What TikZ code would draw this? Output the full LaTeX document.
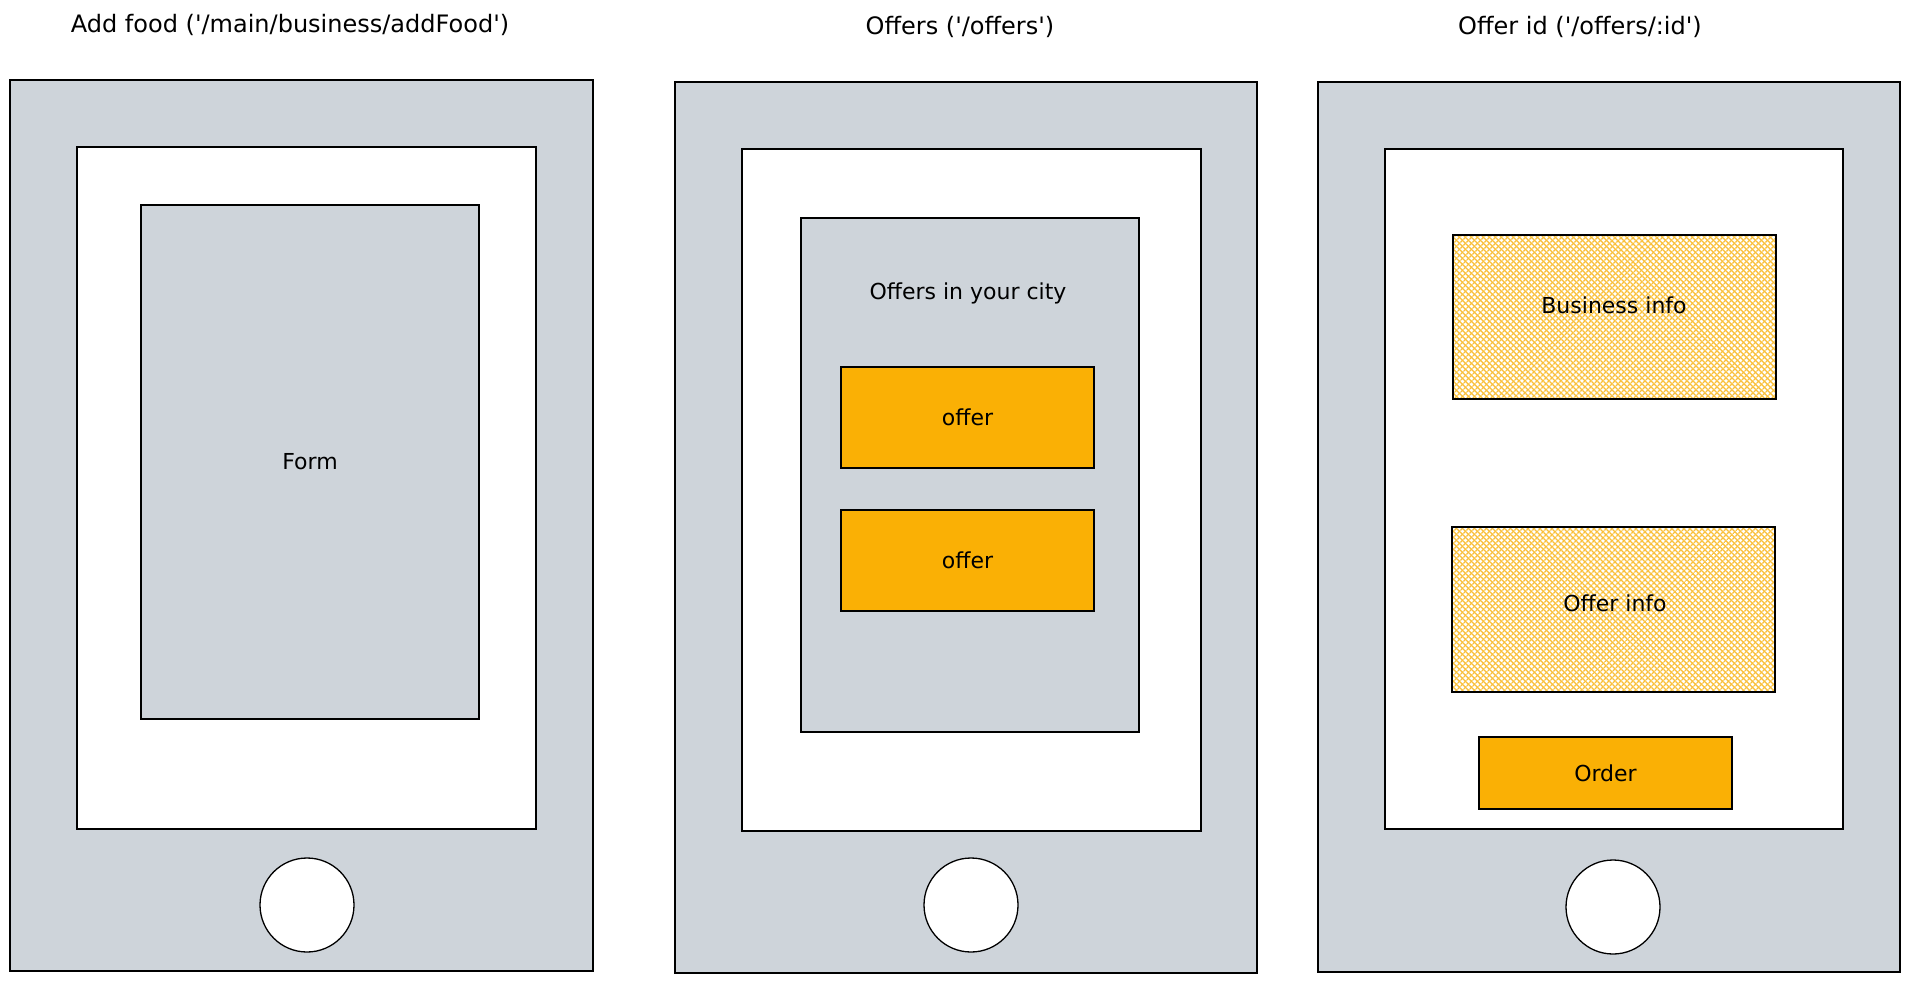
\documentclass[tikz,border=0pt]{standalone}
\usepackage{fontspec}
\setmainfont{DejaVu Sans}
\usetikzlibrary{patterns.meta}
\definecolor{phonegray}{HTML}{CED4DA}
\definecolor{offerorange}{HTML}{FAB005}
\definecolor{hatchyellow}{HTML}{FAC03A}

\begin{document}
\begin{tikzpicture}[x=1pt,y=-1pt,
  every node/.style={inner sep=0pt},
  case/.style={draw=black,line width=1.3pt,fill=phonegray},
  screen/.style={draw=black,line width=1.3pt,fill=white},
  panel/.style={draw=black,line width=1.3pt,fill=phonegray,font=\fontsize{22}{26}\selectfont},
  offerbox/.style={draw=black,line width=1.3pt,fill=offerorange,font=\fontsize{22}{26}\selectfont},
  infobox/.style={draw=black,line width=1.3pt,fill=white,
    preaction={fill=white},
    preaction={pattern={Lines[angle=45,distance=4pt,line width=1.4pt]},pattern color=hatchyellow},
    pattern={Lines[angle=-45,distance=4pt,line width=1.4pt]},pattern color=hatchyellow,
    font=\fontsize{22}{26}\selectfont},
  homebtn/.style={circle,draw=black,line width=1.3pt,fill=white,minimum size=94pt},
  title/.style={font=\fontsize{24}{28}\selectfont}]
  \fill[white] (0,0) rectangle (1910,982);
  \useasboundingbox (0,0) rectangle (1910,982);
  % phone 1: add food
  \node[title] (titleA) at (290,25) {Add food (\textquotesingle/main/business/addFood\textquotesingle)};
  \node[case, minimum width=583pt, minimum height=891pt] (caseA) at (301.5,525.5) {};
  \node[screen, minimum width=459pt, minimum height=682pt] (screenA) at (306.5,488) {};
  \node[panel, minimum width=338pt, minimum height=514pt] (form) at (310,462) {Form};
  \node[homebtn] (homeA) at (307,905) {};
  % phone 2: offers
  \node[title] (titleB) at (960,27) {Offers (\textquotesingle/offers\textquotesingle)};
  \node[case, minimum width=582pt, minimum height=891pt] (caseB) at (966,527.5) {};
  \node[screen, minimum width=459pt, minimum height=682pt] (screenB) at (971.5,490) {};
  \node[panel, minimum width=338pt, minimum height=514pt] (offerlist) at (970,475) {};
  \node[panel, draw=none, fill=none] (citytext) at (968,293) {Offers in your city};
  \node[offerbox, minimum width=253pt, minimum height=101pt] (offerA) at (967.5,417.5) {offer};
  \node[offerbox, minimum width=253pt, minimum height=101pt] (offerB) at (967.5,560.5) {offer};
  \node[homebtn] (homeB) at (971,905) {};
  % phone 3: offer id
  \node[title] (titleC) at (1580,27) {Offer id (\textquotesingle/offers/:id\textquotesingle)};
  \node[case, minimum width=582pt, minimum height=890pt] (caseC) at (1609,527) {};
  \node[screen, minimum width=458pt, minimum height=680pt] (screenC) at (1614,489) {};
  \node[infobox, minimum width=323pt, minimum height=164pt] (business) at (1614.5,317) {};
  \node[panel, draw=none, fill=none] (businesstext) at (1614,305) {Business info};
  \node[infobox, minimum width=323pt, minimum height=165pt] (offerinfo) at (1613.5,609.5) {};
  \node[panel, draw=none, fill=none] (offerinfotext) at (1615,603) {Offer info};
  \node[offerbox, minimum width=253pt, minimum height=72pt] (order) at (1605.5,773) {Order};
  \node[homebtn] (homeC) at (1613,907) {};
\end{tikzpicture}
\end{document}
